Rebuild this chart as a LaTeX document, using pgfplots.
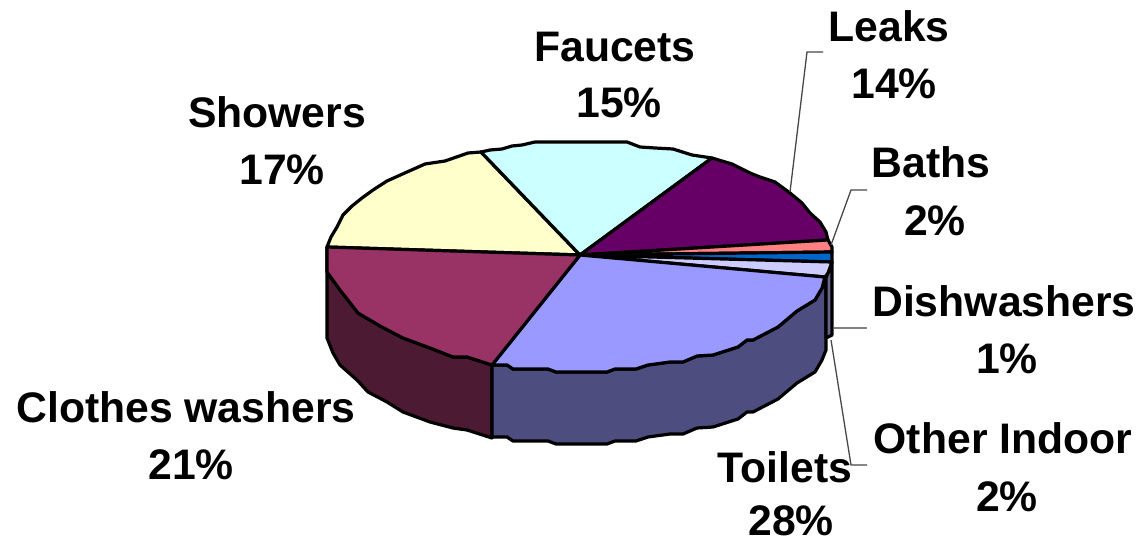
\documentclass[border=0pt]{standalone}
\usepackage{pgfplots}
\pgfplotsset{compat=1.18}
\usepackage{fontspec}
\setmainfont{Liberation Sans}
\definecolor{showers}{HTML}{FFFFCC}
\definecolor{faucets}{HTML}{CCFFFF}
\definecolor{leaks}{HTML}{660066}
\definecolor{baths}{HTML}{FF8080}
\definecolor{dish}{HTML}{0066CC}
\definecolor{otherin}{HTML}{CCCCFF}
\definecolor{toilets}{HTML}{9999FF}
\definecolor{clothes}{HTML}{993366}
\definecolor{clotheswall}{HTML}{4D1A33}
\definecolor{toiletswall}{HTML}{4D4D80}
\definecolor{otherwall}{HTML}{666690}
\tikzset{
  lab/.style={anchor=base, inner sep=0pt, font=\fontsize{42.7}{48}\selectfont\bfseries},
  leader/.style={draw=black!72, line width=1.3pt, line join=miter},
}
\begin{document}
\begin{tikzpicture}
\path[use as bounding box] (0,0) rectangle (1138pt,541pt);
\begin{axis}[
  at={(0,0)}, anchor=south west,
  scale only axis, width=1138pt, height=541pt,
  xmin=0, xmax=1138, ymin=0, ymax=541, y dir=reverse,
  hide axis, clip=false,
  every axis plot/.append style={no markers, draw=black, line width=3.2pt, line join=round},
]
% pie walls
\addplot[fill=clotheswall] coordinates {(327,247)(327,272)(340,290)(358,313)(380,326)(403,338)(430,348)(453,357)(467,357)(492,365)(492,438)(467,430)(453,428)(430,422)(403,412)(387,402)(368,392)(357,380)(340,365)(333,353)(327,338)} --cycle;
\addplot[fill=toiletswall] coordinates {(492,365)(507,365)(513,369)(548,369)(556,372)(607,372)(615,369)(636,369)(648,365)(670,362)(683,362)(697,356)(713,355)(738,347)(747,340)(753,340)(778,327)(797,311)(815,300)(822,288)(826,278)(826,338)(826,350)(822,360)(815,372)(797,383)(778,399)(753,412)(747,412)(738,419)(713,427)(697,428)(683,434)(670,434)(648,437)(636,441)(615,441)(607,444)(556,444)(548,441)(513,441)(507,437)(492,437)} --cycle;
\addplot[fill=otherwall] coordinates {(826,278)(832,262)(832,335)(826,338)} --cycle;
% pie top, one wedge per category
\addplot[fill=showers] coordinates {(580,255)(327,247)(331,237)(337,227)(343,215)(352,206)(362,198)(373,190)(387,181)(407,172)(425,164)(445,161)(468,153)(481,152)} --cycle;
\addplot[fill=faucets] coordinates {(580,255)(481,152)(490,150)(502,149)(512,146)(522,145)(535,142)(627,142)(640,147)(655,148)(673,149)(692,155)(712,158)} --cycle;
\addplot[fill=leaks] coordinates {(580,255)(712,158)(732,164)(750,173)(760,177)(775,182)(790,193)(802,203)(810,213)(820,222)(826,232)(828,240)} --cycle;
\addplot[fill=baths] coordinates {(580,255)(828,240)(832,247)(832,252)} --cycle;
\addplot[fill=dish] coordinates {(580,255)(832,252)(832,262)} --cycle;
\addplot[fill=otherin] coordinates {(580,255)(832,262)(828,273)(825,277)} --cycle;
\addplot[fill=toilets] coordinates {(580,255)(825,277)(822,288)(815,300)(797,311)(778,327)(753,340)(747,340)(738,347)(713,355)(697,356)(683,362)(670,362)(648,365)(636,369)(615,369)(607,372)(556,372)(548,369)(513,369)(507,365)(492,365)} --cycle;
\addplot[fill=clothes] coordinates {(580,255)(492,365)(467,357)(453,357)(430,348)(403,338)(380,326)(358,313)(340,290)(327,272)(327,247)} --cycle;
% leader lines
\addplot[leader] coordinates {(823,52)(807,52)(790,192)};
\addplot[leader] coordinates {(867,190)(851,190)(831,245)};
\addplot[leader, draw=black!50] coordinates {(834,328)(867,328)};
\addplot[leader] coordinates {(831,340)(851,465)(867,465)};
% category labels
\node[lab] at (axis cs:615,61) {Faucets};
\node[lab] at (axis cs:619,117) {15\%};
\node[lab] at (axis cs:889,41) {Leaks};
\node[lab] at (axis cs:894,98) {14\%};
\node[lab] at (axis cs:277,127) {Showers};
\node[lab] at (axis cs:282,184) {17\%};
\node[lab] at (axis cs:931,177) {Baths};
\node[lab] at (axis cs:935,235) {2\%};
\node[lab] at (axis cs:1004,316) {Dishwashers};
\node[lab] at (axis cs:1007,373) {1\%};
\node[lab] at (axis cs:1003,453) {Other Indoor};
\node[lab] at (axis cs:1007,511) {2\%};
\node[lab] at (axis cs:785,482) {Toilets};
\node[lab] at (axis cs:791,535) {28\%};
\node[lab] at (axis cs:186,422) {Clothes washers};
\node[lab] at (axis cs:191,479) {21\%};
\end{axis}
\end{tikzpicture}
\end{document}
